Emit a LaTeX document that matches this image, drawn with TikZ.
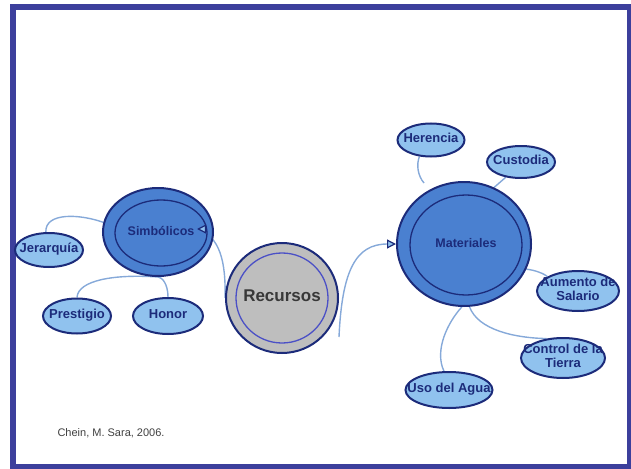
\documentclass[tikz,border=0pt]{standalone}
\usepackage{fontspec}
\setmainfont{Liberation Sans}
\usetikzlibrary{shapes.geometric,arrows.meta}

\pgfdeclarelayer{background}
\pgfsetlayers{background,main}

\definecolor{framecol}{HTML}{3C3F9C}
\definecolor{navy}{HTML}{1C2B7A}
\definecolor{bigfill}{HTML}{4A80D0}
\definecolor{leaffill}{HTML}{90C2EE}
\definecolor{linkcol}{HTML}{86A9D9}
\definecolor{recfill}{HTML}{BEBEBE}
\definecolor{recring}{HTML}{4B50C6}

\newcommand{\boxtext}[1]{\makebox[0pt]{\begin{tabular}{@{}c@{}}#1\end{tabular}}}

\begin{document}
\begin{tikzpicture}[x=1pt,y=-1pt,
    bigouter/.style={
      ellipse,draw=navy,line width=2pt,fill=bigfill,inner sep=0pt
    },
    biginner/.style={
      ellipse,draw=navy,line width=1.3pt,inner sep=0pt,
      text=navy,font=\bfseries\fontsize{12.5}{14}\selectfont
    },
    recouter/.style={
      ellipse,draw=navy,line width=2pt,fill=recfill,inner sep=0pt
    },
    recinner/.style={
      ellipse,draw=recring,line width=1.3pt,inner sep=0pt,
      text=black!78,font=\bfseries\fontsize{17}{19}\selectfont
    },
    leaf/.style={
      ellipse,draw=navy,line width=2pt,fill=leaffill,inner sep=0pt,
      text=navy,font=\bfseries\fontsize{13}{14}\selectfont
    },
    link/.style={
      draw=linkcol,line width=1.4pt
    },
    tipmark/.style={
      -{Triangle[length=9pt,width=9pt,color=navy,fill=leaffill,line width=1.2pt]}
    }]

      \useasboundingbox (0,0) rectangle (631,468);
      \draw[framecol,line width=5.5pt] (13,7) rectangle (629.5,466.5);

      \node[bigouter,minimum width=110,minimum height=88] (sim) at (158,232) {};
      \node[biginner,minimum width=92,minimum height=66] (simin) at (161,233) {\boxtext{Simbólicos}};

      \node[recouter,minimum width=112,minimum height=110] (rec) at (282,298) {};
      \node[recinner,minimum width=92,minimum height=90] (recin) at (282,298) {\boxtext{Recursos}};

      \node[bigouter,minimum width=134,minimum height=124] (mat) at (464,244) {};
      \node[biginner,minimum width=112,minimum height=100] (matin) at (466,245) {\boxtext{Materiales}};

      \node[leaf,minimum width=68,minimum height=34] (jer) at (49,250) {\boxtext{Jerarquía}};
      \node[leaf,minimum width=68,minimum height=35] (pre) at (77,316) {\boxtext{Prestigio}};
      \node[leaf,minimum width=70,minimum height=36] (hon) at (168,316) {\boxtext{Honor}};

      \node[leaf,minimum width=67,minimum height=33] (her) at (431,140) {\boxtext{Herencia}};
      \node[leaf,minimum width=68,minimum height=32] (cus) at (521,162) {\boxtext{Custodia}};
      \node[leaf,minimum width=82,minimum height=40] (aum) at (578,291) {\boxtext{Aumento de\\Salario}};
      \node[leaf,minimum width=84,minimum height=40] (ctl) at (563,358) {\boxtext{Control de la\\Tierra}};
      \node[leaf,minimum width=87,minimum height=36] (uso) at (449,390) {\boxtext{Uso del Agua}};

      \node[anchor=west,text=black!75,font=\fontsize{11}{13}\selectfont] (cite) at (54,433) {Chein, M. Sara, 2006.};

      \coordinate (simtip) at (197,229);
      \coordinate (recout) at (339,337);
      \coordinate (herend) at (424,183);

      \begin{pgfonlayer}{background}
        \draw[link] (sim.170) .. controls (80,214) and (45,212) .. (jer.100);
        \draw[link] (sim.south) .. controls (115,274) and (78,280) .. (pre.north);
        \draw[link] (sim.south) .. controls (162,277) and (168,284) .. (hon.north);
        \draw[link] (rec.west) .. controls (226,262) and (220,236) .. (simtip);
        \draw[link,tipmark] (recout) .. controls (342,270) and (356,244) .. (mat.west);
        \draw[link] (her.235) .. controls (416,165) and (418,176) .. (herend);
        \draw[link] (mat.62) -- (cus.225);
        \draw[link] (mat.-22) .. controls (535,270) and (545,274) .. (aum.155);
        \draw[link] (mat.268) .. controls (448,322) and (434,350) .. (uso.105);
        \draw[link] (mat.275) .. controls (478,330) and (515,338) .. (ctl.130);
      \end{pgfonlayer}

      \draw[link,tipmark] (simtip) ++(2,0) -- (simtip);
  \end{tikzpicture}
\end{document}
